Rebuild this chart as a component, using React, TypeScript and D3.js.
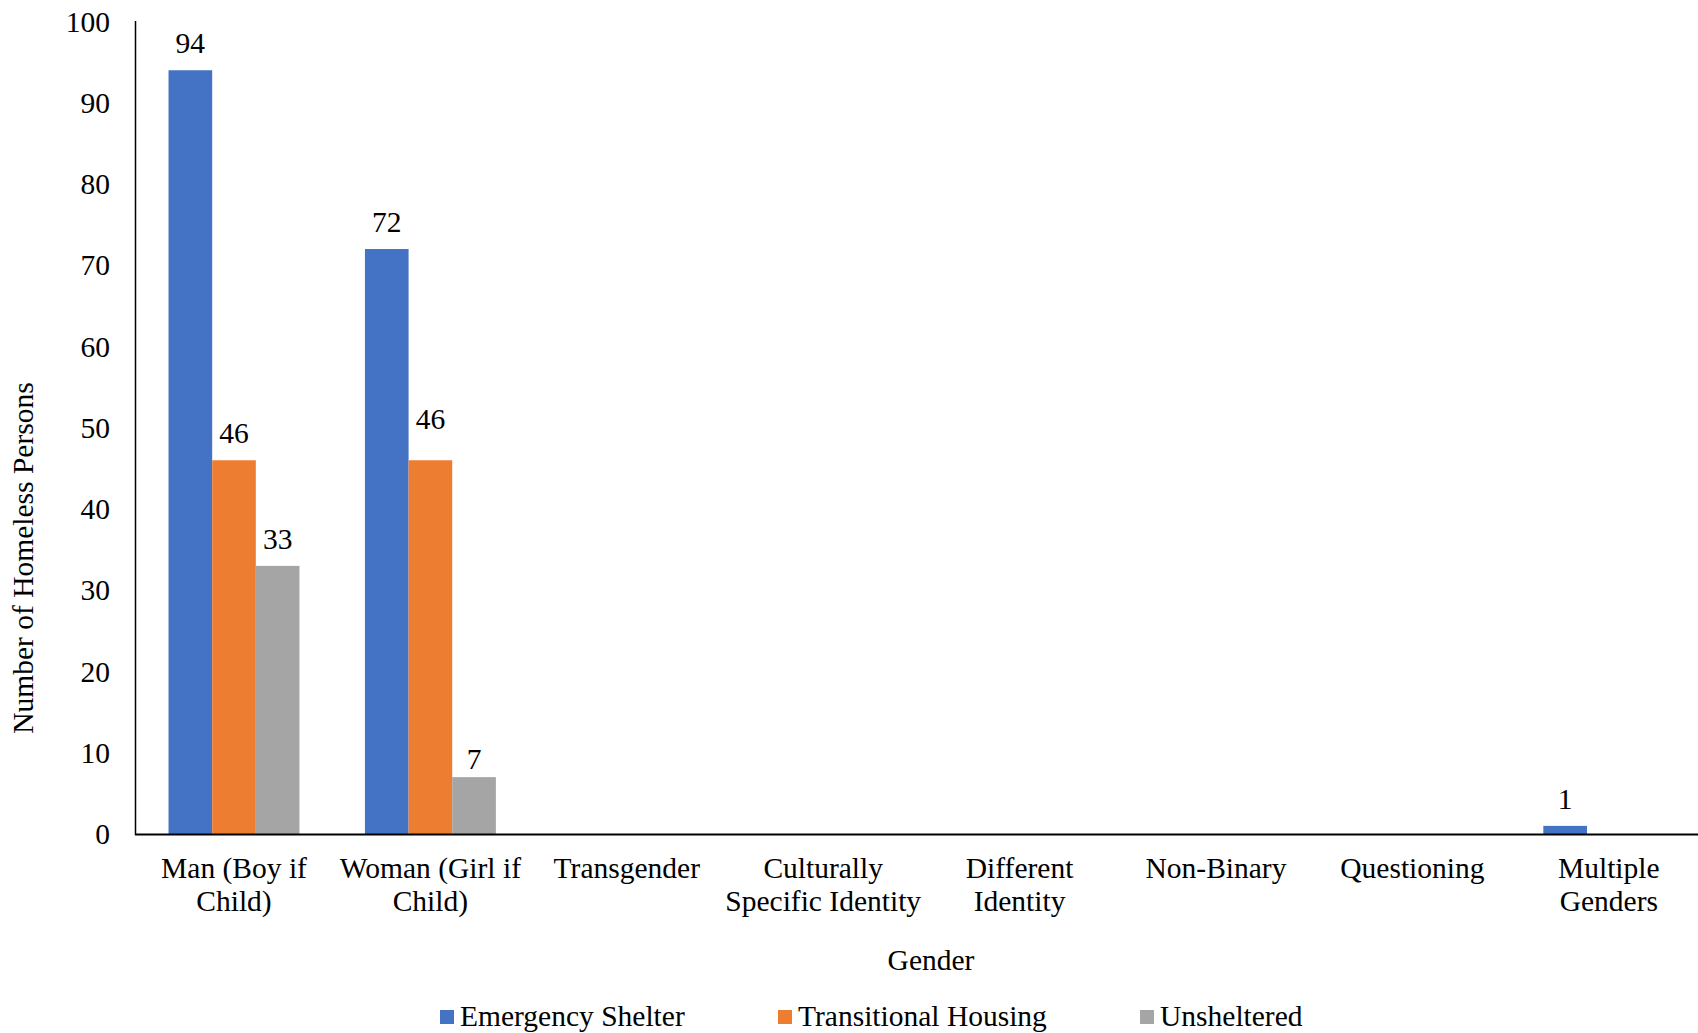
import React from "react";
import * as d3 from "d3";

const categories: string[][] = [
  ["Man (Boy if", "Child)"],
  ["Woman (Girl if", "Child)"],
  ["Transgender"],
  ["Culturally", "Specific Identity"],
  ["Different", "Identity"],
  ["Non-Binary"],
  ["Questioning"],
  ["Multiple", "Genders"],
];
const seriesNames = ["Emergency Shelter", "Transitional Housing", "Unsheltered"];
const emergencyShelter = [94, 72, 0, 0, 0, 0, 0, 1];
const transitionalHousing = [46, 46, 0, 0, 0, 0, 0, 0];
const unsheltered = [33, 7, 0, 0, 0, 0, 0, 0];
const yTicks = [0, 10, 20, 30, 40, 50, 60, 70, 80, 90, 100];
const colors = ["#4472C4", "#ED7D31", "#A5A5A5"];

const W = 1698;
const H = 1033;
const FONT = "'Liberation Serif', 'Times New Roman', serif";
const FS = 29.5;

// per-label vertical nudges (series index, category index) -> px
const labelNudge: Record<string, number> = { "1-1": -14, "2-1": 9 };

export default function App() {
  const values = [emergencyShelter, transitionalHousing, unsheltered];
  const keys = categories.map((c) => c.join(" "));
  const x0 = d3.scaleBand<string>().domain(keys).range([135.8, 1707]).padding(0);
  const x1 = d3
    .scaleBand<string>()
    .domain(seriesNames)
    .range([0, x0.bandwidth()])
    .paddingInner(0)
    .paddingOuter(0.75);
  const y = d3.scaleLinear().domain([0, 100]).range([834, 21.5]);

  return (
    <svg
      width={W}
      height={H}
      style={{ position: "absolute", left: 0, top: 0, background: "#fff" }}
      fontFamily={FONT}
    >
      <rect x={0} y={0} width={W} height={H} fill="#fff" />
      {keys.map((k, ci) =>
        seriesNames.map((s, si) => {
          const v = values[si][ci];
          if (!v) return null;
          const bx = (x0(k) ?? 0) + (x1(s) ?? 0);
          const nudge = labelNudge[`${si}-${ci}`] ?? 0;
          return (
            <g key={k + s}>
              <rect
                x={bx}
                y={y(v)}
                width={x1.bandwidth()}
                height={y(0) - y(v)}
                fill={colors[si]}
              />
              <text
                x={bx + x1.bandwidth() / 2}
                y={y(v) - 17 + nudge}
                textAnchor="middle"
                fontSize={FS}
                fill="#000"
              >
                {v}
              </text>
            </g>
          );
        })
      )}
      <line x1={135.5} x2={135.5} y1={21} y2={835} stroke="#000" strokeWidth={1.5} />
      <line x1={135} x2={W} y1={834.5} y2={834.5} stroke="#000" strokeWidth={2} />
      {yTicks.map((t) => (
        <text
          key={t}
          x={110}
          y={y(t) + 10}
          textAnchor="end"
          fontSize={FS}
          fill="#000"
        >
          {t}
        </text>
      ))}
      {categories.map((lines, ci) => (
        <text key={ci} textAnchor="middle" fontSize={FS} fill="#000">
          {lines.map((ln, li) => (
            <tspan
              key={li}
              x={(x0(keys[ci]) ?? 0) + x0.bandwidth() / 2}
              y={878 + li * 33}
            >
              {ln}
            </tspan>
          ))}
        </text>
      ))}
      <text x={931} y={970} textAnchor="middle" fontSize={FS} fill="#000">
        Gender
      </text>
      <text
        transform={`translate(33,558) rotate(-90)`}
        textAnchor="middle"
        fontSize={FS}
        fill="#000"
      >
        Number of Homeless Persons
      </text>
      {seriesNames.map((s, i) => {
        const lx = [440, 778, 1140][i];
        return (
          <g key={s}>
            <rect x={lx} y={1010} width={14} height={14} fill={colors[i]} />
            <text x={lx + 20} y={1026} fontSize={FS} fill="#000">
              {s}
            </text>
          </g>
        );
      })}
    </svg>
  );
}
